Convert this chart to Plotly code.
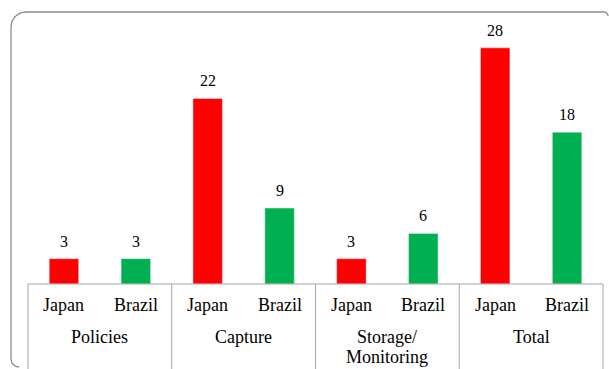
import numpy as np
import plotly.graph_objects as go

# Article counts per category and country
group_names = ["Policies", "Capture", "Storage/<br>Monitoring", "Total"]
countries = ["Japan", "Brazil"]
counts_japan = [3, 22, 3, 28]
counts_brazil = [3, 9, 6, 18]

country_colors = {"Japan": "#FF0000", "Brazil": "#00B050"}
SERIF = "Times New Roman"

# flatten into one bar per (group, country) slot
labels, values, colors = [], [], []
for j, b in zip(counts_japan, counts_brazil):
    for c, v in zip(countries, (j, b)):
        labels.append(c)
        values.append(v)
        colors.append(country_colors[c])
positions = list(range(len(values)))

# the plotting area spans the whole page; axes are laid out in pixels
W, H = 609, 369
AX_L, AX_R, AX_Y, AX_TOP = 28, 603, 284, 20      # axis line and top of bar space
slot = (AX_R - AX_L) / len(values)                # pixels per category slot
ppu = (AX_Y - AX_TOP) / 31.3                      # pixels per count unit

def dx(p):   # pixel column -> x data
    return (p - AX_L) / slot - 0.5
def dy(p):   # pixel row -> y data
    return (AX_Y - p) / ppu

fig = go.Figure()

# rounded frame around the chart
L, T, R, B = 11, 12, 608, 367
r_tl, r_tr, r_bl = 15, 4, 8
def arc(cx, cy, r, a0, a1):
    a = np.linspace(np.radians(a0), np.radians(a1), 12)
    return cx + r * np.cos(a), cy - r * np.sin(a)
bx, by = arc(L + r_bl, B - r_bl, r_bl, 270, 180)
tlx, tly = arc(L + r_tl, T + r_tl, r_tl, 180, 90)
trx, try_ = arc(R - r_tr, T + r_tr, r_tr, 90, 0)
frame_x = np.concatenate([bx, tlx, trx])
frame_y = np.concatenate([by, tly, try_])
fig.add_trace(go.Scatter(
    x=[dx(p) for p in frame_x], y=[dy(p) for p in frame_y], mode="lines",
    line=dict(color="#8C8C8C", width=1.3), hoverinfo="skip",
))

# category axis line and group dividers
n_per = len(countries)
bounds = [gi * n_per - 0.5 for gi in range(len(group_names) + 1)]
div_x, div_y = [], []
for b in bounds:
    div_x += [b, b, None]
    div_y += [0, dy(H), None]
fig.add_trace(go.Scatter(
    x=[bounds[0], bounds[-1], None] + div_x, y=[0, 0, None] + div_y,
    mode="lines", line=dict(color="#A6A6A6", width=1), hoverinfo="skip",
))

fig.add_trace(go.Bar(
    x=positions, y=values, marker=dict(color=colors), width=0.41,
    hoverinfo="skip",
))

# value labels above each bar
for x, v in zip(positions, values):
    fig.add_annotation(
        x=x, y=v + 7 / ppu, text=str(v), showarrow=False, yanchor="bottom",
        font=dict(family=SERIF, size=16, color="#000000"),
    )

# country labels under each bar
for x, lab in zip(positions, labels):
    fig.add_annotation(
        x=x, y=dy(305), text=lab, showarrow=False, yanchor="middle",
        font=dict(family=SERIF, size=18, color="#000000"),
    )

# group labels, one text per line
for gi, g in enumerate(group_names):
    first = gi * n_per
    last = first + n_per - 1
    for k, line in enumerate(g.split("<br>")):
        fig.add_annotation(
            x=(first + last) / 2, y=dy(337 + 20 * k), text=line,
            showarrow=False, yanchor="middle",
            font=dict(family=SERIF, size=18, color="#000000"),
        )

fig.update_layout(
    width=W, height=H,
    margin=dict(l=0, r=0, t=0, b=0),
    paper_bgcolor="white", plot_bgcolor="white",
    showlegend=False, hovermode=False,
    font=dict(family=SERIF, size=18, color="#000000"),
    xaxis=dict(range=[dx(0), dx(W)], visible=False),
    yaxis=dict(range=[dy(H), dy(0)], visible=False),
)

fig.write_html("out.html")
